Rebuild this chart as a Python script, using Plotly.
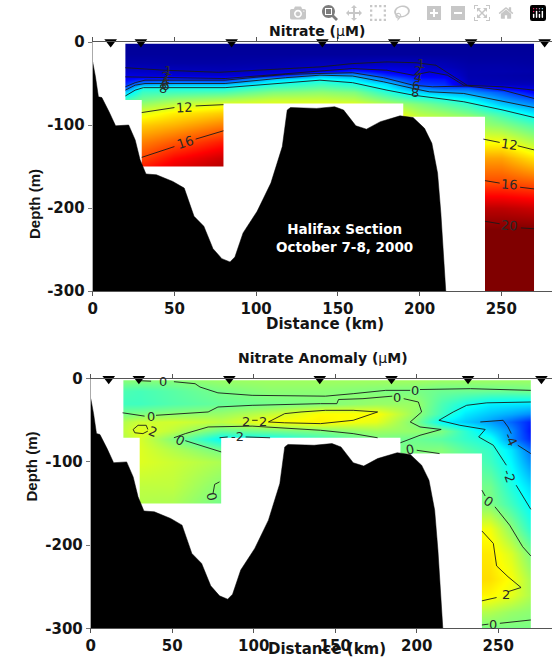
import plotly.graph_objects as go

W, H = 552, 668
FONT = "DejaVu Sans"
INK = "#141414"

# ---------- shared data ----------
stations_km = [11, 29.5, 85, 140.5, 184.5, 231.5, 276.5]
bathy_km = [0, 1.7, 3.5, 5.6, 10, 14, 22, 26, 29, 32.6, 39, 49, 56, 62, 68, 73.6, 79, 84, 87, 92,
            100.6, 109, 116, 119, 121, 137, 148, 153.5, 161, 167.5, 176, 188, 196, 203, 207.5,
            211, 213, 216, 216, 0]
bathy_depth = [24, 42, 66, 67, 84, 101, 100, 118, 142, 159, 160, 168, 176, 210, 222, 249, 261, 265,
               259, 230, 204, 170, 126, 82, 79, 80, 78, 82, 101, 105, 96, 89, 91, 104, 122,
               158, 206, 300, 300, 300]
x_ticks = [0, 50, 100, 150, 200, 250]
x_labels = ["0", "50", "100", "150", "200", "250"]
y_ticks = [0, -100, -200, -300]
y_labels = ["0", "-100", "-200", "-300"]
jet = [[0, "rgb(0,0,143)"], [0.125, "rgb(0,0,255)"], [0.375, "rgb(0,255,255)"],
       [0.625, "rgb(255,255,0)"], [0.875, "rgb(255,0,0)"], [1, "rgb(128,0,0)"]]

# ---------- nitrate ----------
no3_x = [20, 30, 50, 80, 110, 140, 160, 180, 200, 215, 230, 250, 270]
no3_depth = [2, 15, 25, 30, 35, 40, 45, 50, 55, 60, 70, 75, 85, 90, 100, 120, 140, 150, 170, 200, 225, 250, 300]
no3_z = [
    [.2, .2, .2, .2, .2, .2, .2, .2, .2, .2, .2, .2, .2],
    [.3, .3, .3, .3, .3, .3, .3, .3, .3, .3, .3, .3, .3],
    [.6, .6, .5, .5, .6, .9, .9, 1.1, 1.0, .8, .5, .5, .4],
    [.9, .9, .8, .7, .8, 1.1, 1.6, 1.6, 1.4, 1.0, .6, .6, .5],
    [1.3, 1.2, 1.1, .9, 1.3, 2.0, 3.2, 2.2, 1.8, 1.5, .7, .7, .6],
    [1.8, 1.7, 1.6, 1.5, 2.0, 6.0, 5.5, 3.3, 2.2, 2.0, .7, .6, .5],
    [2.5, 3.0, 3.3, 3.0, 6.5, 7.7, 7.0, 4.8, 3.0, 2.8, .8, .7, .6],
    [3.3, 5.5, 6.0, 6.0, 8.0, 8.7, 8.1, 6.8, 3.7, 3.4, 1.0, 1.0, 1.0],
    [4.5, 8, 8, 8, 9, 9.5, 9, 7.4, 5.2, 4.3, 4.4, 2.3, 1.7],
    [6.6, 8.7, 8.8, 9, 10, 10.3, 10, 8.3, 6.6, 6, 5.5, 4.2, 2.4],
    [9, 9.8, 10.5, 11, 11.5, 11.5, 11.2, 10, 9, 8.4, 7.6, 5.7, 4.4],
    [10, 10.5, 11.3, 12, 12, 12, 12, 11, 10, 9.2, 8.5, 6.5, 5.2],
    [11, 12, 12.8, 13.5, 13, 13, 13, 12.5, 11, 10.5, 9.8, 8.6, 7],
    [11.5, 12.5, 13.2, 14, 13.5, 13.5, 13.5, 13, 11.5, 11, 10.7, 9.2, 7.8],
    [12.5, 13.5, 14, 15, 14.5, 14, 14, 14, 13, 12, 10.8, 10.2, 9],
    [14, 15, 15.8, 17, 16, 15, 15, 15, 14, 13, 12.4, 12.4, 11],
    [15, 16.2, 17.4, 18.5, 17, 16, 16, 16, 15, 14.2, 14.3, 14.3, 13],
    [15.5, 17, 18, 19, 17.5, 16.5, 16.5, 16.5, 15.5, 15, 15, 15, 14],
    [16, 18, 19, 20, 18, 17, 17, 17, 16, 16, 16.1, 16.1, 15.8],
    [19, 19, 20, 20, 19, 19, 19, 19, 19, 19, 18.8, 18.8, 18.5],
    [20.5, 20.5, 20.5, 20.5, 20.5, 20.5, 20.5, 20.5, 20.5, 20.5, 20, 20, 20],
    [21, 21, 21, 21, 21, 21, 21, 21, 21, 21, 21, 21, 21],
    [22, 22, 22, 22, 22, 22, 22, 22, 22, 22, 22, 22, 22],
]
no3_cover_x = [20, 30, 80, 190, 240, 270]
no3_cover_bottom = [70, 150, 74, 90, 300]
no3_lines = [
    ([20, 44, 77, 93, 139, 159, 180, 198, 210, 221, 229], [31, 34, 36.5, 35, 30, 26, 24, 25, 28, 42, 52]),
    ([20, 44, 81, 142, 159, 180, 196, 206, 217, 227, 251, 270], [42, 43, 44, 34.5, 32, 34, 40, 36, 40, 52, 54, 58]),
    ([20, 26, 32, 81, 118, 139, 159, 178, 196, 208, 229, 251, 270], [54, 49, 46, 46, 39, 38, 37, 43, 52, 54, 53, 58, 68]),
    ([20, 26, 32, 81, 118, 139, 159, 178, 196, 206, 227, 251, 270], [58, 52, 50, 50, 43, 40, 41, 48, 56, 60, 62, 72, 79]),
    ([20, 26, 31, 81, 139, 159, 180, 196, 227, 251, 270], [65, 58, 55, 55, 46, 49, 58, 64, 72, 82, 91]),
    ([30, 50, None, 63, 80], [85, 79, None, 77, 75.5]),
    ([239, 249, None, 260, 270], [117, 121, None, 125, 130]),
    ([30, 50, None, 63, 80], [139, 126, None, 117, 107]),
    ([240, 249, None, 261.5, 270], [167, 170, None, 175, 177]),
    ([240, 249, None, 262, 270], [216, 219, None, 224, 225]),
]
no3_labels = [
    (46, 34, "1", 0), (45, 42, "2", -10), (44, 47, "4", -10), (44, 52, "6", -10), (43, 56, "8", 0),
    (201, 26, "1", 0), (199, 34, "2", 0), (199, 43, "4", 10), (198, 52, "6", 0), (197, 61, "8", 0),
    (56, 79, "12", -3), (56.5, 121, "16", -18), (255, 124, "12", 8), (255, 172, "16", 4), (255, 221, "20", 4),
]

# ---------- nitrate anomaly ----------
ano_x = [20, 30, 50, 80, 110, 140, 175, 200, 215, 230, 245, 258, 270]
ano_depth = [2, 15, 30, 42, 52, 62, 72, 85, 100, 130, 150, 180, 210, 240, 260, 280, 300]
ano_z = [
    [.1, .1, .1, .4, .5, .5, .5, .5, .4, .4, .4, .4, .4],
    [-.8, -.9, -.6, -.1, .2, .2, 0, -.1, -.3, -.3, -.3, -.3, -.2],
    [-1, -1, -.7, -.4, -.2, 0, .4, .4, -.8, -1.6, -2.2, -2.3, -2.4],
    [-.1, 0, .2, .4, 1.1, 2, 2, .3, -1, -2.3, -2.9, -3.3, -3.8],
    [.8, 1.2, 1.3, 1, 1.9, 2.2, 1.6, -.1, -2, -2.8, -3.5, -4.4, -5.5],
    [1, 1.6, 1, -.4, -.2, 0, .5, .3, 0, -1.3, -2.6, -3.8, -5.8],
    [.8, 1.4, .1, -2, -1.9, -1, -.1, -.3, -.6, -1.2, -1.7, -3.8, -5.5],
    [1, 1.5, .8, -.2, -1, -.8, -.3, 0, .1, -.6, -1.2, -2.4, -4.3],
    [1.5, 1.5, 1.2, .7, 0, 0, 0, .1, .1, -.4, -1, -2.1, -3.8],
    [1, 1, 1, .1, 0, 0, 0, 0, 0, -.1, -.2, -1.5, -2.6],
    [.8, .8, .7, -.2, 0, 0, 0, 0, 0, .1, 0, -1, -2.1],
    [1, 1, 1, 0, 0, 0, 0, 0, 0, 1.9, 1.8, .2, -1.4],
    [1, 1, 1, 0, 0, 0, 0, 0, 0, 2.4, 2.3, 1.4, -.1],
    [1, 1, 1, 0, 0, 0, 0, 0, 0, 2.6, 2.5, 1.9, .6],
    [1, 1, 1, 0, 0, 0, 0, 0, 0, 2.3, 2.1, 1.6, .7],
    [1, 1, 1, 0, 0, 0, 0, 0, 0, .9, .8, .4, .2],
    [0, 0, 0, 0, 0, 0, 0, 0, 0, -.2, -.1, -.1, -.1],
]
ano_cover_x = [20, 30, 80, 190, 240, 270]
ano_cover_bottom = [71, 150, 71, 90, 300]
ano_lines = [
    ([30, 37, None, 51, 64, 67, 78, 99, 144, 161, 181, 196, None, 202, 233, 270],
     [2.4, 3, None, 3.6, 6, 10, 17, 20, 21, 18, 14, 14, None, 13, 12, 14]),
    ([19.5, 33, None, 40, 58, 72, 78, 99, 141, 151, 152, 167, 185, None, 192, 201, 203, 196, 202, 215, 202, 190],
     [41, 45, None, 44, 42, 40, 34, 32, 30, 30, 25, 24, 21, None, 24, 28, 40, 52, 58, 61, 68, 77]),
    ([200, 214], [86, 90]),
    ([80, 66, 58, None, 51, 58, 72, 99, 141, 161, 176], [88, 80, 74.5, None, 71, 66, 58, 57, 62, 66, 71]),
    ([79, 84, None, 95, 110], [71, 70, None, 70, 71]),
    ([35, 34, 29, 26, 27, 32, 35], [61, 56, 56, 61, 65, 66, 63]),
    ([99, 102.4], [50, 50]),
    ([109, 119, 129, 144, 161, 176, 161, 151, 141, 119, 109], [52, 42, 40, 38, 38, 40, 50, 52, 54, 53, 52]),
    ([213.6, 222.4, 230.6, 243, 270], [50, 40, 32, 29, 28]),
    ([213.6, 226.5, 242, 238, 247, 255, None, 261, 270], [50, 56, 61, 70, 80, 104, None, 128, 157]),
    ([239, 253, 256, 258, None, 262, 270], [52, 50, 58, 66, None, 80, 90]),
    ([240, 242, None, 248, 257, 265, 270], [134, 141, None, 154, 176, 202, 213]),
    ([240, 247, 249, 256, 264, 256, None, 249, 240], [183, 198, 225, 238, 251, 256, None, 263, 267]),
    ([240, 244, None, 251, 270], [296, 295, None, 294, 290]),
    ([79, 76, 75, None, 73], [124, 127, 138, None, 150]),
]
ano_labels = [
    (44, 3, "0", 0), (199, 14, "0", 0), (37, 45, "0", 0), (188, 23, "0", 0), (196, 85, "0", -10),
    (55, 74.5, "0", 25), (38, 63, "2", 20), (95, 51, "2", 0), (105.5, 52, "2", 0),
    (90, 70, "-2", 0), (257, 117, "-2", 70), (258, 72.5, "-4", 65), (244, 148, "0", 35),
    (254.5, 259, "2", 0), (247, 295, "0", 0), (74, 142, "0", 80),
]


def rects(cover_x, cover_bottom, x_max):
    xs, ys = [], []
    def add(x0, x1, d0, d1):
        xs.extend([x0, x1, x1, x0, x0, None])
        ys.extend([-d0, -d0, -d1, -d1, -d0, None])
    add(0, cover_x[0], 0, 300)
    add(cover_x[-1], x_max, 0, 300)
    add(0, x_max, 0, 2)
    for i, bottom in enumerate(cover_bottom):
        add(cover_x[i], cover_x[i + 1], bottom, 300)
    return xs, ys


fig = go.Figure()


def panel(suffix, x, depth, z, zmin, zmax, cover_x, cover_bottom, lines, labels, x_max):
    xa, ya = "x" + suffix, "y" + suffix
    fig.add_trace(go.Heatmap(x=x, y=[-d for d in depth], z=z, zmin=zmin, zmax=zmax, colorscale=jet,
                             zsmooth="best", showscale=False, hoverinfo="skip", xaxis=xa, yaxis=ya))
    mx, my = rects(cover_x, cover_bottom, x_max)
    fig.add_trace(go.Scatter(x=mx, y=my, mode="lines", fill="toself", fillcolor="white",
                             line=dict(width=0, color="white"), hoverinfo="skip", xaxis=xa, yaxis=ya))
    for lx, ld in lines:
        fig.add_trace(go.Scatter(x=lx, y=[None if d is None else -d for d in ld], mode="lines",
                                 line=dict(color="#1a1a1a", width=0.9), hoverinfo="skip", xaxis=xa, yaxis=ya))
    fig.add_trace(go.Scatter(x=bathy_km, y=[-d for d in bathy_depth], mode="lines", fill="toself",
                             fillcolor="black", line=dict(color="black", width=0.5), hoverinfo="skip",
                             xaxis=xa, yaxis=ya))
    fig.add_trace(go.Scatter(x=stations_km, y=[0] * len(stations_km), mode="markers", cliponaxis=False,
                             marker=dict(symbol="triangle-down", size=11, color="black"), hoverinfo="skip",
                             xaxis=xa, yaxis=ya))
    for lx, ld, text, angle in labels:
        fig.add_annotation(x=lx, y=-ld, text=text, textangle=angle, showarrow=False, xref=xa, yref=ya,
                           font=dict(family=FONT, size=13, color="#2a2a2a"))


panel("", no3_x, no3_depth, no3_z, 0, 20, no3_cover_x, no3_cover_bottom, no3_lines, no3_labels, 281)
panel("2", ano_x, ano_depth, ano_z, -8, 8, ano_cover_x, ano_cover_bottom, ano_lines, ano_labels, 283)

x_common = dict(tickvals=x_ticks, ticktext=x_labels, ticks="outside", ticklen=4, tickcolor="#555", tickwidth=1,
                showline=True, linecolor="#555", linewidth=1, mirror="allticks", showgrid=False, zeroline=False,
                automargin=False, tickfont=dict(family=FONT, size=15, color=INK, weight="bold"))
y_common = dict(tickvals=y_ticks, ticktext=y_labels, ticks="outside", ticklen=4, tickcolor="#777", tickwidth=1,
                showline=True, linecolor="#aaa", linewidth=1, showgrid=False, zeroline=False, range=[-300, 0],
                automargin=False, tickfont=dict(family=FONT, size=15, color=INK, weight="bold"))


def dom(top, bottom):
    return [1 - bottom / H, 1 - top / H]


fig.update_layout(
    width=W, height=H, margin=dict(l=0, r=0, t=0, b=0, autoexpand=False), paper_bgcolor="white", plot_bgcolor="white",
    showlegend=False, font=dict(family=FONT, color=INK),
    xaxis=dict(x_common, domain=[92.7 / W, 1], range=[0, 281], anchor="y"),
    yaxis=dict(y_common, domain=dom(42, 291), anchor="x"),
    xaxis2=dict(x_common, domain=[90.8 / W, 1], range=[0, 283], anchor="y2"),
    yaxis2=dict(y_common, domain=dom(378.7, 628.3), anchor="x2"),
)
for cx, cy, text, angle, fnt in [
    (325, 324, "<b>Distance (km)</b>", 0, dict(family=FONT, size=15, color=INK)),
    (327, 660, "<b>Distance (km)</b>", 0, dict(family=FONT, size=15, color=INK)),
    (23.5, 167, "<b>Depth (m)</b>", -90, dict(family="Liberation Sans", size=15, color=INK)),
    (21, 504, "<b>Depth (m)</b>", -90, dict(family="Liberation Sans", size=15, color=INK)),
    (317, 21, "<b>Nitrate (</b>μ<b>M)</b>", 0, dict(family=FONT, size=14, color=INK)),
    (323, 358, "<b>Nitrate Anomaly (</b>μ<b>M)</b>", 0, dict(family=FONT, size=14, color=INK)),
]:
    fig.add_annotation(x=cx / W, y=1 - cy / H, xref="paper", yref="paper", text=text, textangle=angle,
                       showarrow=False, font=fnt)
fig.add_annotation(x=154, y=-236, xref="x", yref="y", text="<b>Halifax Section<br>October 7-8, 2000</b>",
                   showarrow=False, font=dict(family=FONT, size=13.5, color="white"))

fig.write_html("out.html", post_script="document.body.style.margin='0';document.documentElement.style.overflow='hidden';")
